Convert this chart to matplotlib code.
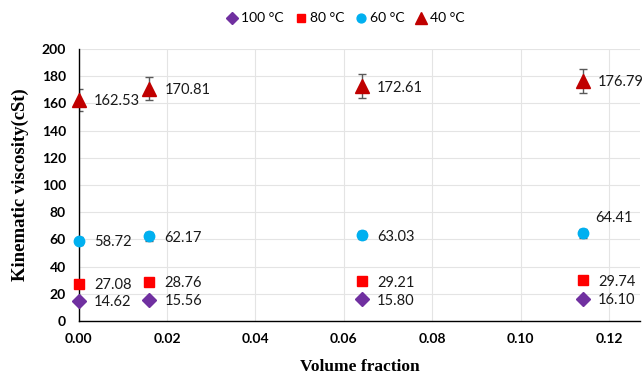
import numpy as np
import matplotlib.pyplot as plt

# volume fraction of nanoparticles
phi = [0.0, 0.016, 0.064, 0.114]

# kinematic viscosity (cSt) at each temperature
visc_100 = [14.62, 15.56, 15.80, 16.10]
visc_80 = [27.08, 28.76, 29.21, 29.74]
visc_60 = [58.72, 62.17, 63.03, 64.41]
visc_40 = [162.53, 170.81, 172.61, 176.79]

err_pct = 0.05

series = [
    ('100 °C', visc_100, 'D', '#7030A0', 7.5),
    ('80 °C', visc_80, 's', '#FF0000', 7),
    ('60 °C', visc_60, 'o', '#00B0F0', 7.5),
    ('40 °C', visc_40, '^', '#C00000', 9.5),
]

fig = plt.figure(figsize=(6.44, 3.74), dpi=100)
ax = fig.add_axes([0.122, 0.142, 0.872, 0.727])

for name, vals, mk, col, ms in series:
    vals = np.array(vals)
    ax.errorbar(phi, vals, yerr=vals * err_pct, fmt='none', ecolor='#595959',
                elinewidth=1, capsize=2.8, capthick=1, zorder=2)
    ax.plot(phi, vals, linestyle='none', marker=mk, color=col, markersize=ms,
            label=name, zorder=3, clip_on=False)

# value labels next to each point
for name, vals, mk, col, ms in series:
    for x, v in zip(phi, vals):
        dx, dy = 11, -1
        if name == '60 °C' and x == phi[-1]:
            dx, dy = 9, 11
        ax.annotate(f'{v:.2f}', (x, v), xytext=(dx, dy), textcoords='offset points',
                    ha='left', va='center', fontsize=10.5, family='Lato',
                    color='#1a1a1a')

ax.set_xlim(0, 0.127)
ax.set_ylim(0, 200)
ax.set_xticks(np.arange(0, 0.121, 0.02))
ax.set_yticks(np.arange(0, 201, 20))
ax.set_xticklabels([f'{t:.2f}' for t in np.arange(0, 0.121, 0.02)])
ax.tick_params(length=0, pad=9, labelsize=10)
for lab in ax.get_xticklabels() + ax.get_yticklabels():
    lab.set_fontweight('bold')
    lab.set_family('Lato')

ax.grid(True, color='#E4E4E4', linewidth=0.8)
ax.set_axisbelow(True)
for s in ['top', 'right']:
    ax.spines[s].set_visible(False)
for s in ['left', 'bottom']:
    ax.spines[s].set_color('black')
    ax.spines[s].set_linewidth(1)

ax.set_xlabel('Volume fraction', family='Liberation Serif', fontweight='bold',
              fontsize=12.5, labelpad=10)
ax.set_ylabel('Kinematic viscosity(cSt)', family='Liberation Serif',
              fontweight='bold', fontsize=13.5, labelpad=9)

fig.legend(loc='upper center', bbox_to_anchor=(0.537, 1.0), ncol=4, frameon=False,
           handletextpad=0.25, columnspacing=0.8, handlelength=0.8,
           prop={'family': 'Lato', 'size': 10}, markerscale=0.85)

fig.savefig('out.png', dpi=100)
